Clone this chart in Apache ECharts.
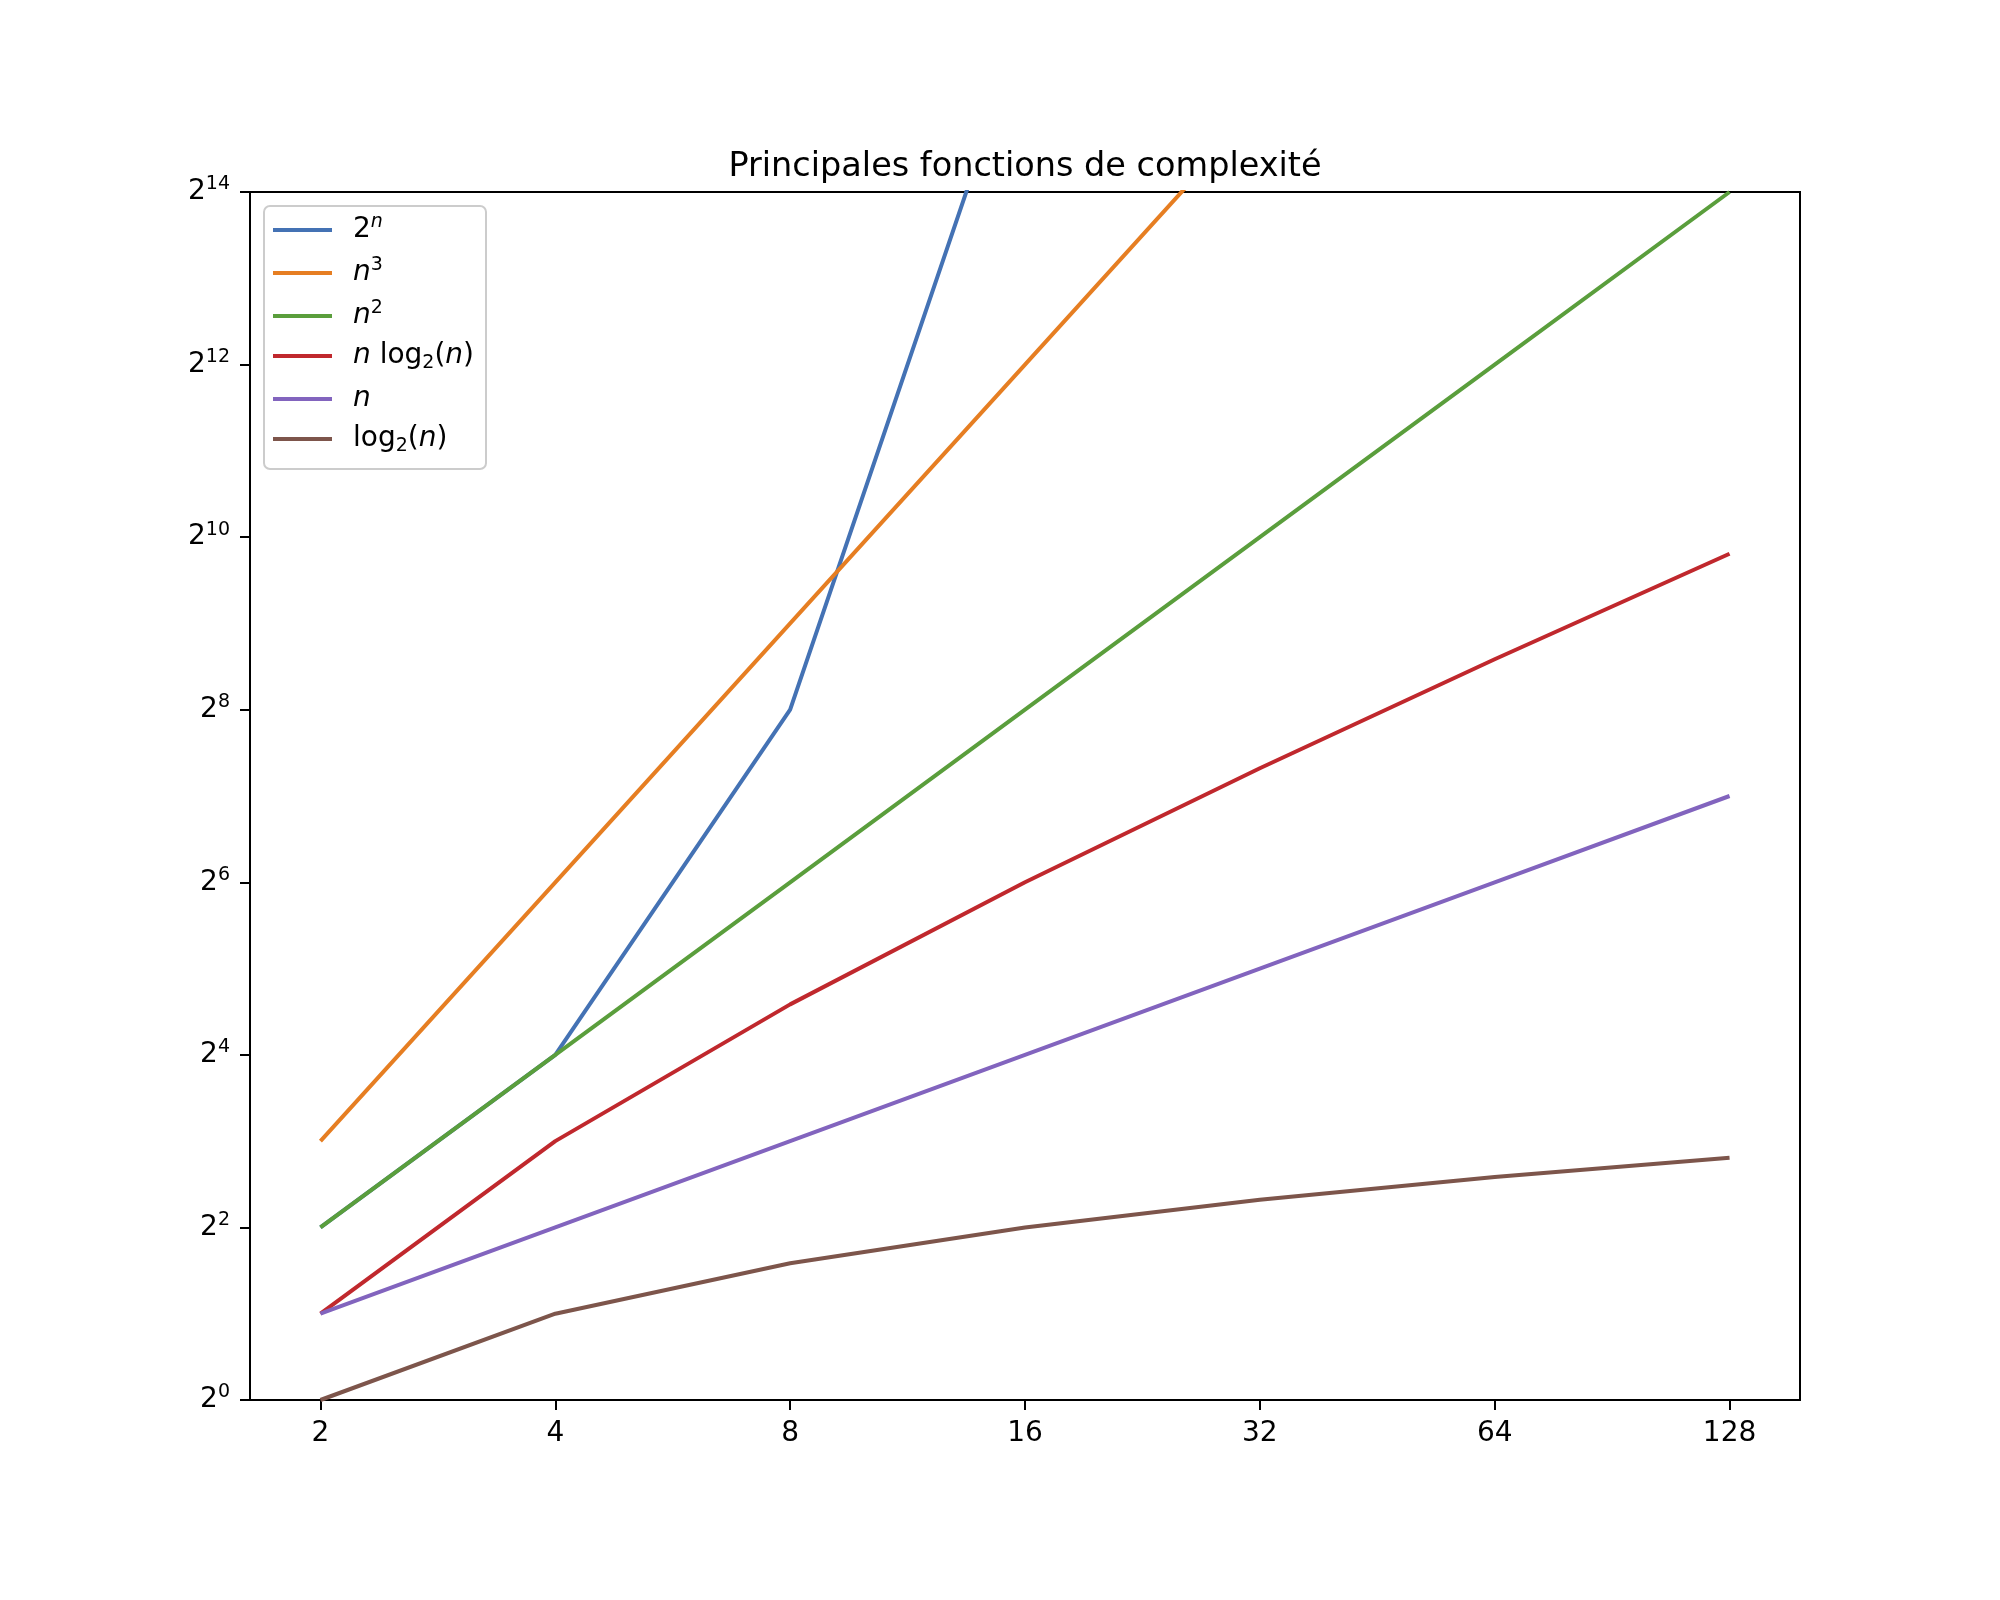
<!DOCTYPE html>
<html>
<head>
<meta charset="utf-8">
<script src="https://cdn.jsdelivr.net/npm/echarts@6/dist/echarts.min.js"></script>
<style>
  html, body { margin: 0; padding: 0; background: #fff; }
  #chart { width: 2000px; height: 1600px; }
</style>
</head>
<body>
<div id="chart"></div>
<script>
// valeurs de n (axe x, échelle log2)
const ns = [2, 4, 8, 16, 32, 64, 128];
// valeurs des fonctions
const expValues = [4, 16, 256, 65536, 4294967296, 1.8446744073709552e19, 3.402823669209385e38];
const cubeValues = [8, 64, 512, 4096, 32768, 262144, 2097152];
const squareValues = [4, 16, 64, 256, 1024, 4096, 16384];
const nlognValues = [2, 8, 24, 64, 160, 384, 896];
const linearValues = [2, 4, 8, 16, 32, 64, 128];
const logValues = [1, 2, 3, 4, 5, 6, 7];

const seriesNames = ['2^n', 'n^3', 'n^2', 'n log2(n)', 'n', 'log2(n)'];
const seriesValues = [expValues, cubeValues, squareValues, nlognValues, linearValues, logValues];
const colors = ['#4472b4', '#e67e22', '#5a9e3c', '#c0282d', '#8264be', '#7d554b'];

// libellés de la légende en texte riche (exposants / indices)
const legendLabels = {
  '2^n': '{r|2}{si|n}',
  'n^3': '{i|n}{s|3}',
  'n^2': '{i|n}{s|2}',
  'n log2(n)': '{i|n}{r| log}{b|2}{r|(}{i|n}{r|)}',
  'n': '{i|n}',
  'log2(n)': '{r|log}{b|2}{r|(}{i|n}{r|)}'
};

const FONT = 'DejaVu Sans';
const rich = {
  r: { fontFamily: FONT, fontSize: 28, lineHeight: 34, color: '#000' },
  i: { fontFamily: FONT, fontSize: 28, lineHeight: 34, fontStyle: 'italic', color: '#000' },
  s: { fontFamily: FONT, fontSize: 19, lineHeight: 19, verticalAlign: 'top', color: '#000' },
  si: { fontFamily: FONT, fontSize: 19, lineHeight: 19, verticalAlign: 'top', fontStyle: 'italic', color: '#000' },
  b: { fontFamily: FONT, fontSize: 19, lineHeight: 22, verticalAlign: 'bottom', color: '#000' }
};

const toLog = v => Math.log2(v);

const chart = echarts.init(document.getElementById('chart'));
chart.setOption({
  backgroundColor: '#ffffff',
  animation: false,
  title: {
    text: 'Principales fonctions de complexité',
    left: 1020,
    top: 145,
    textAlign: 'center',
    textStyle: { fontFamily: FONT, fontSize: 33.5, fontWeight: 'normal', color: '#000' }
  },
  legend: {
    orient: 'vertical',
    left: 264,
    top: 206,
    icon: 'rect',
    itemWidth: 59,
    itemHeight: 4,
    itemGap: 12,
    padding: [7, 12, 13, 9],
    backgroundColor: 'rgba(255,255,255,0.8)',
    borderColor: '#cccccc',
    borderWidth: 2,
    borderRadius: 6,
    data: seriesNames,
    formatter: name => legendLabels[name],
    textStyle: { fontFamily: FONT, fontSize: 28, padding: [0, 0, 0, 16], rich: rich }
  },
  grid: {
    left: 250,
    top: 192,
    width: 1550,
    height: 1208,
    show: true,
    borderColor: '#000',
    borderWidth: 2,
    containLabel: false,
    outerBoundsMode: 'none'
  },
  xAxis: {
    type: 'value',
    min: 0.7,
    max: 7.3,
    axisLine: { show: true, lineStyle: { color: '#000', width: 2 } },
    axisTick: { show: true, length: 10, lineStyle: { color: '#000', width: 2 }, customValues: ns.map(toLog) },
    axisLabel: {
      customValues: ns.map(toLog),
      margin: 20,
      fontFamily: FONT,
      fontSize: 28,
      color: '#000',
      formatter: v => String(Math.round(Math.pow(2, v)))
    },
    splitLine: { show: false }
  },
  yAxis: {
    type: 'value',
    min: 0,
    max: 14,
    interval: 2,
    axisLine: { show: true, lineStyle: { color: '#000', width: 2 } },
    axisTick: { show: true, length: 10, lineStyle: { color: '#000', width: 2 } },
    axisLabel: {
      margin: 20,
      formatter: v => '{r|2}{s|' + v + '}',
      rich: rich
    },
    splitLine: { show: false }
  },
  series: seriesNames.map((name, k) => ({
    name: name,
    type: 'line',
    symbol: 'none',
    clip: true,
    color: colors[k],
    lineStyle: { color: colors[k], width: 4 },
    data: ns.map((n, j) => [toLog(n), toLog(seriesValues[k][j])])
  }))
});
</script>
</body>
</html>
